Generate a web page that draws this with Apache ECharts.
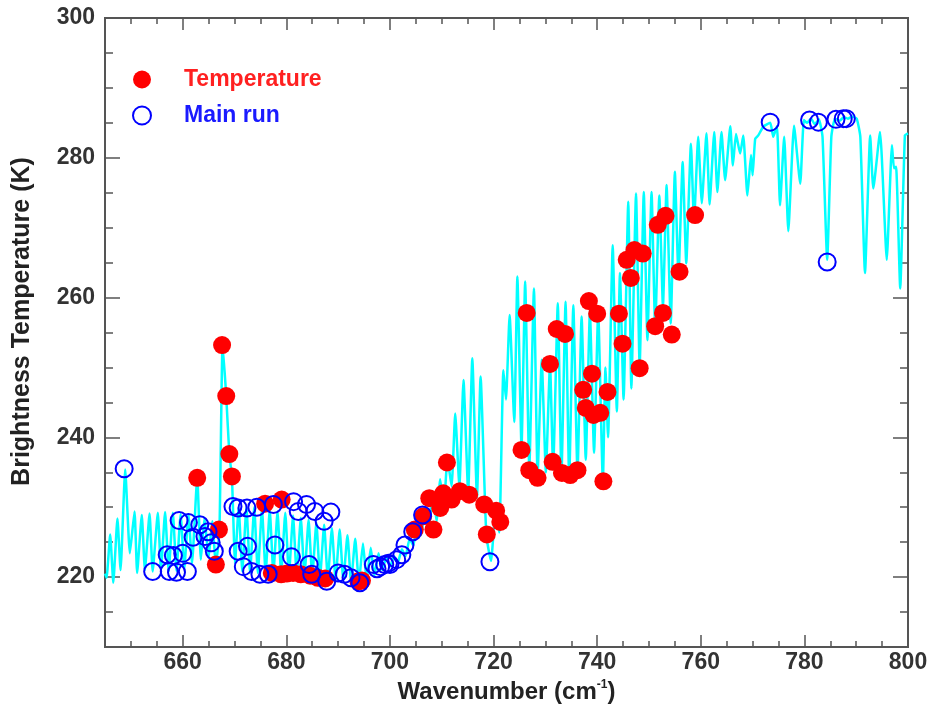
<!DOCTYPE html>
<html>
<head>
<meta charset="utf-8">
<script src="https://cdn.jsdelivr.net/npm/echarts@6/dist/echarts.min.js"></script>
<style>
html,body{margin:0;padding:0;background:#fff;}
#chart{width:932px;height:704px;}
</style>
</head>
<body>
<div id="chart"></div>
<script>
// ---- data ----
const xTicks = [660, 680, 700, 720, 740, 760, 780, 800];
const yTicks = [220, 240, 260, 280, 300];

const spectrumWn = [645.0,645.3,646.0,646.6,647.4,648.0,648.9,649.8,650.7,651.2,652.1,652.7,653.6,654.2,655.2,655.8,656.6,657.3,658.1,658.8,659.6,660.3,661.1,661.8,662.8,663.5,664.2,665.0,665.7,666.4,667.1,667.7,668.4,669.0,669.5,670.1,670.8,671.5,672.3,673.0,673.8,674.5,675.3,676.0,676.8,677.5,678.3,679.0,679.8,680.5,681.3,682.0,682.8,683.5,684.3,685.0,685.8,686.5,687.3,688.0,688.8,689.5,690.3,691.0,691.8,692.5,693.3,694.0,694.8,695.5,696.3,697.0,697.8,698.5,699.3,700.0,700.8,701.5,702.3,703.0,703.8,704.5,705.3,706.0,706.8,707.5,708.3,709.0,709.7,710.4,711.1,711.9,712.6,713.4,714.2,715.1,715.9,716.8,717.5,718.6,719.5,720.4,721.1,721.9,722.4,723.1,724.0,724.6,725.4,726.1,726.9,727.8,728.5,729.3,730.1,730.9,731.5,732.4,733.1,733.9,734.6,735.4,736.2,737.0,737.8,738.6,739.4,740.2,741.1,741.6,742.1,743.0,743.8,744.4,745.1,746.0,746.6,747.5,748.2,749.0,749.7,750.5,751.2,752.0,752.7,753.4,754.2,755.0,755.7,756.5,757.2,758.1,758.7,759.5,760.2,761.1,761.7,762.6,763.2,764.0,764.7,765.7,766.2,766.8,767.6,768.2,769.0,769.7,770.0,770.5,771.1,772.1,773.4,774.0,774.7,775.3,776.1,776.9,778.0,779.2,779.9,780.5,781.3,782.0,782.8,783.5,784.4,785.2,785.9,786.8,787.6,788.4,789.2,790.1,790.8,791.7,792.7,793.3,794.6,795.9,796.9,797.3,797.7,798.5,799.4,800.0];
const spectrumBT = [220.5,219.9,226.1,219.2,228.4,221.0,235.4,223.4,229.4,220.6,228.9,221.0,229.1,220.8,229.2,221.0,229.3,220.8,229.2,220.9,229.0,221.2,229.0,222.0,234.3,222.5,228.5,222.8,228.0,221.7,227.0,253.2,245.9,237.6,234.3,222.0,230.0,220.8,230.0,220.6,230.0,220.6,229.8,220.5,229.6,220.5,229.4,220.4,229.2,220.3,228.8,220.3,228.5,220.2,228.2,220.0,227.8,219.9,227.5,219.8,227.0,219.6,226.8,219.5,226.0,219.3,225.5,219.2,224.8,219.5,224.2,220.2,223.4,221.0,222.8,221.5,223.0,222.0,224.0,223.0,225.5,224.5,227.5,226.0,230.0,227.0,232.0,228.0,234.0,230.0,237.0,233.0,243.4,233.0,248.2,232.1,251.3,231.4,248.7,226.0,222.3,229.5,226.4,249.6,245.4,257.5,242.2,263.0,238.5,262.3,235.5,261.3,234.5,251.1,235.0,250.6,235.4,259.2,234.5,259.4,234.0,258.9,234.8,257.3,236.8,258.0,237.8,258.0,233.5,250.0,240.0,267.5,243.7,263.5,245.4,273.7,247.0,274.9,250.1,275.1,253.9,275.1,255.5,274.6,258.7,276.1,256.3,278.0,263.0,279.4,264.9,282.0,270.8,283.0,273.5,283.5,273.3,283.7,275.1,283.7,276.8,284.5,278.9,283.4,280.6,283.2,274.6,280.4,277.5,282.7,283.2,284.5,285.0,283.0,284.5,273.2,283.0,269.5,284.6,276.3,285.4,285.0,285.6,284.8,285.5,283.0,265.4,283.0,285.6,285.3,285.8,285.6,285.9,285.6,283.0,263.5,283.2,275.6,283.7,265.4,281.8,278.5,278.7,261.3,283.2,283.5];

const tempWn = [662.8,666.4,667.0,667.6,668.4,669.0,669.5,675.9,679.1,677.2,679.0,680.1,681.3,682.8,684.6,686.1,687.5,693.9,694.6,704.8,706.4,707.6,708.4,709.7,710.3,711.0,711.9,713.5,715.3,718.2,718.7,720.5,721.3,725.4,726.4,726.9,728.5,730.9,731.4,732.2,733.2,733.8,734.8,736.2,737.3,737.8,738.4,739.0,739.3,740.0,740.6,741.2,742.0,744.2,744.9,745.7,746.5,747.2,748.2,748.8,751.2,751.7,752.7,753.2,754.4,755.9,758.9];
const tempBT = [234.2,221.8,226.8,253.2,245.9,237.6,234.4,230.5,231.1,220.6,220.4,220.5,220.6,220.4,220.2,219.9,219.8,219.4,219.5,226.8,228.7,231.3,226.8,229.9,232.0,236.4,231.1,232.3,231.8,230.4,226.1,229.5,227.9,238.2,257.8,235.3,234.2,250.5,236.5,255.5,234.9,254.8,234.6,235.3,246.8,244.2,259.5,249.1,243.2,257.7,243.5,233.7,246.5,257.7,253.4,265.4,262.8,266.8,249.9,266.3,255.9,270.4,257.8,271.7,254.7,263.7,271.8];

const mainWn = [648.7,654.2,657.0,657.4,658.2,658.8,659.3,660.0,660.9,661.1,662.0,663.3,664.3,664.9,665.5,666.1,669.7,670.7,670.7,671.7,672.4,672.5,673.3,674.3,674.9,676.5,677.5,677.8,681.0,681.4,682.3,683.9,684.4,684.9,685.5,687.3,688.6,687.8,690.0,691.2,692.5,694.2,696.8,697.5,698.2,699.0,699.7,700.0,701.3,702.3,702.9,704.4,706.3,719.3,773.4,781.0,782.7,784.4,786.1,787.5,788.1];
const mainBT = [235.5,220.8,223.2,220.8,223.1,220.7,228.1,223.4,220.8,227.8,225.7,227.5,225.8,226.5,224.9,223.7,230.1,229.9,223.7,221.5,229.9,224.4,220.8,230.0,220.4,220.4,230.4,224.6,222.9,230.8,229.4,230.4,221.8,220.4,229.4,228.0,229.3,219.4,220.6,220.4,219.9,219.2,221.8,221.2,221.5,221.8,222.0,221.8,222.5,223.2,224.6,226.5,228.9,222.2,285.1,285.4,285.1,265.1,285.5,285.6,285.6];

// ---- build ----
const zip = (a, b) => a.map((v, i) => [v, b[i]]);
const FONT = '"Liberation Sans", Arial, Helvetica, sans-serif';
const AX = '#555';
const X_MIN = 645, X_MAX = 800, Y_MIN = 210, Y_MAX = 300;

function xAxisDef(pos, major, showLabel, showName) {
  const a = {
    type: 'value', position: pos, min: X_MIN, max: X_MAX,
    axisLine: { show: true, onZero: false, lineStyle: { color: AX, width: 2 } },
    splitLine: { show: false },
    axisTick: { show: true, inside: true, length: major ? 12 : 6, lineStyle: { color: AX, width: 1.5 } },
    axisLabel: { show: false }
  };
  if (major) {
    a.axisTick.customValues = xTicks;
    a.axisLabel = { show: showLabel, customValues: xTicks, margin: 4, color: '#333',
      fontFamily: FONT, fontWeight: 'bold', fontSize: 23 };
  } else {
    a.interval = 5;
  }
  if (showName) {
    a.name = '{a|Wavenumber (cm}{b|-1}{a|)}';
    a.nameLocation = 'middle';
    a.nameGap = 27;
    a.nameTextStyle = {
      rich: {
        a: { fontFamily: FONT, fontWeight: 'bold', fontSize: 24, color: '#222', lineHeight: 26 },
        b: { fontFamily: FONT, fontWeight: 'bold', fontSize: 12, color: '#222', lineHeight: 26, verticalAlign: 'top', padding: [0, 0, 12, 0] }
      }
    };
  }
  return a;
}
function yAxisDef(pos, major, showLabel, showName) {
  const a = {
    type: 'value', position: pos, min: Y_MIN, max: Y_MAX,
    axisLine: { show: true, onZero: false, lineStyle: { color: AX, width: 2 } },
    splitLine: { show: false },
    axisTick: { show: true, inside: true, length: major ? 15 : 8, lineStyle: { color: AX, width: 1.5 } },
    axisLabel: { show: false }
  };
  if (major) {
    a.axisTick.customValues = yTicks;
    a.axisLabel = { show: showLabel, customValues: yTicks, margin: 10, color: '#333',
      fontFamily: FONT, fontWeight: 'bold', fontSize: 23 };
  } else {
    a.interval = 5;
  }
  if (showName) {
    a.name = 'Brightness Temperature (K)';
    a.nameLocation = 'middle';
    a.nameGap = 70;
    a.nameTextStyle = { fontFamily: FONT, fontWeight: 'bold', fontSize: 25, color: '#222', padding: [0, 0, 0, 22] };
  }
  return a;
}

const chart = echarts.init(document.getElementById('chart'), null, { renderer: 'canvas' });
chart.setOption({
  animation: false,
  backgroundColor: '#fff',
  grid: { left: 105, right: 24, top: 18, bottom: 57, containLabel: false, outerBoundsMode: 'none' },
  xAxis: [
    xAxisDef('bottom', false, false, false),
    xAxisDef('bottom', true, true, true),
    xAxisDef('top', false, false, false),
    xAxisDef('top', true, false, false)
  ],
  yAxis: [
    yAxisDef('left', false, false, false),
    yAxisDef('left', true, true, true),
    yAxisDef('right', false, false, false),
    yAxisDef('right', true, false, false)
  ],
  legend: {
    orient: 'vertical', left: 132, top: 68, padding: 0, itemWidth: 18, itemHeight: 18, itemGap: 13,
    selectedMode: false,
    textStyle: { fontFamily: FONT, fontWeight: 'bold', fontSize: 23, padding: [0, 0, 0, 28] },
    data: [
      { name: 'Temperature', textStyle: { color: '#ff2020' } },
      { name: 'Main run', textStyle: { color: '#1a1aff' } }
    ]
  },
  series: [
    {
      name: 'Spectrum', type: 'line', xAxisIndex: 0, yAxisIndex: 0,
      data: zip(spectrumWn, spectrumBT), showSymbol: false, symbol: 'none', smooth: 0.15,
      lineStyle: { color: '#00ffff', width: 2.5 }, z: 2
    },
    {
      name: 'Temperature', type: 'scatter', xAxisIndex: 0, yAxisIndex: 0,
      data: zip(tempWn, tempBT), symbol: 'circle', symbolSize: 18,
      itemStyle: { color: '#ff0000', opacity: 1 }, z: 3
    },
    {
      name: 'Main run', type: 'scatter', xAxisIndex: 0, yAxisIndex: 0,
      data: zip(mainWn, mainBT), symbol: 'circle', symbolSize: 17,
      itemStyle: { color: 'rgba(0,0,0,0)', borderColor: '#0000ff', borderWidth: 2, opacity: 1 }, z: 4
    }
  ]
});
</script>
</body>
</html>
